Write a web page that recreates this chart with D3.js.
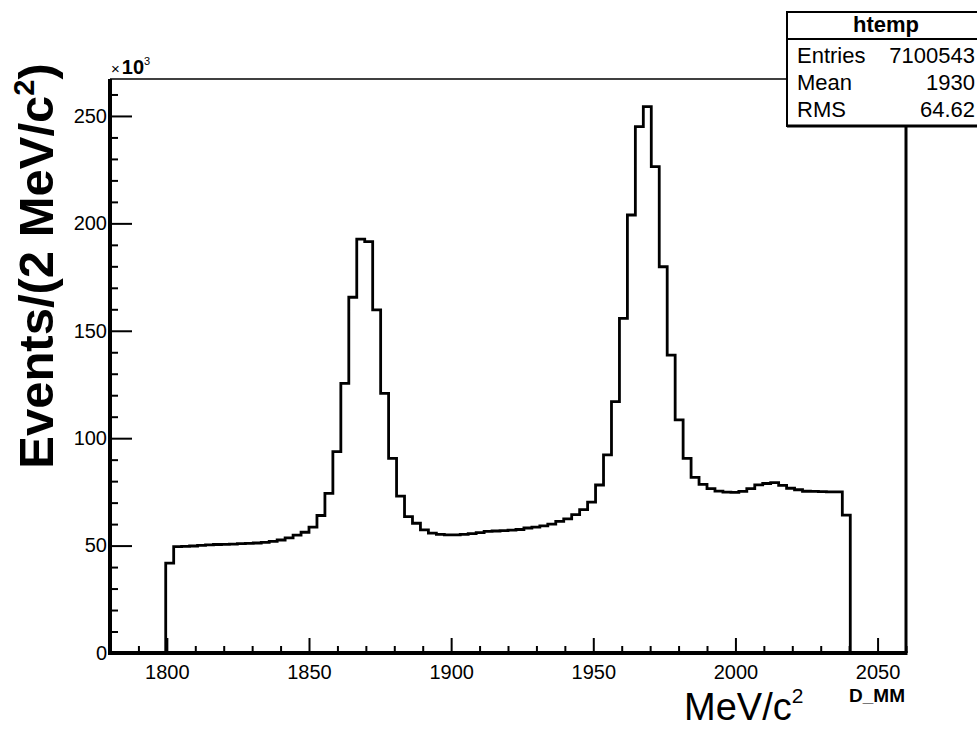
<!DOCTYPE html>
<html>
<head>
<meta charset="utf-8">
<script src="https://cdn.jsdelivr.net/npm/d3@7"></script>
<style>
  html, body { margin: 0; padding: 0; background: #fff; }
  svg { display: block; }
  text { font-family: "Liberation Sans", Arial, Helvetica, sans-serif; fill: #000; }
</style>
</head>
<body>
<svg id="chart" width="977" height="731"></svg>
<script>
// ---- Data ----
const histMin = 1780;
const histMax = 2060;
const nBins = 100;
// bin contents in units of 10^3 events, bins 0..99
const counts = [
  0, 0, 0, 0, 0, 0, 0,
  41.8, 49.5, 49.6, 49.8, 50.1, 50.3, 50.5, 50.6, 50.7, 50.9,
  51.0, 51.2, 51.5, 52.0, 52.6, 53.6, 54.9, 56.2, 58.6, 64.0,
  74.3, 93.7, 125.5, 165.6, 192.7, 191.5, 159.7, 120.9, 90.6, 73.0,
  63.5, 60.4, 57.3, 55.8, 55.2, 55.0, 55.0, 55.2, 55.6, 56.0,
  56.6, 56.8, 57.0, 57.2, 57.5, 58.2, 58.6, 59.2, 60.0, 61.3,
  62.4, 64.4, 66.7, 70.2, 78.2, 92.2, 117.0, 155.8, 203.9, 245.0,
  254.3, 226.4, 179.8, 138.7, 108.5, 90.6, 81.8, 78.5, 76.5, 75.4,
  74.9, 74.8, 75.2, 76.5, 78.3, 78.9, 79.3, 78.0, 76.7, 76.0,
  75.3, 75.2, 75.1, 75.0, 75.0, 64.2,
  0, 0, 0, 0, 0, 0, 0
];
const xMajorTicks = [1800, 1850, 1900, 1950, 2000, 2050];
const yMajorTicks = [0, 50, 100, 150, 200, 250];
const yMax = 267.2;
const statsTitle = "htemp";
const statsRows = [["Entries", "7100543"], ["Mean", "1930"], ["RMS", "64.62"]];

// ---- Layout ----
const svg = d3.select("#chart");
const L = 110, R = 906, T = 79, B = 653;
const x = d3.scaleLinear().domain([histMin, histMax]).range([L, R]);
const y = d3.scaleLinear().domain([0, yMax]).range([B, T]);
const binW = (histMax - histMin) / nBins;

// frame (top & right)
svg.append("line").attr("x1", L).attr("x2", R).attr("y1", T).attr("y2", T)
  .attr("stroke", "#000").attr("stroke-width", 1.6);
svg.append("line").attr("x1", R).attr("x2", R).attr("y1", T).attr("y2", B)
  .attr("stroke", "#000").attr("stroke-width", 3);

// histogram outline
const pts = counts.map((c, i) => [histMin + i * binW, c]);
pts.push([histMax, counts[counts.length - 1]]);
const line = d3.line().x(d => x(d[0])).y(d => y(d[1])).curve(d3.curveStepAfter);
svg.append("path").attr("d", line(pts)).attr("fill", "none")
  .attr("stroke", "#000").attr("stroke-width", 2.8).attr("stroke-linejoin", "miter");

// x axis
const xMinor = d3.range(1790, 2061, 10).filter(v => v % 50 !== 0);
const gxMinor = svg.append("g").attr("transform", `translate(0,${B})`)
  .call(d3.axisBottom(x).tickValues(xMinor).tickSize(-7).tickFormat(""));
const gx = svg.append("g").attr("transform", `translate(0,${B})`)
  .call(d3.axisBottom(x).tickValues(xMajorTicks).tickSize(-15).tickPadding(12).tickFormat(d3.format("d")));
[gxMinor, gx].forEach(g => {
  g.select(".domain").remove();
  g.selectAll(".tick line").attr("stroke", "#000").attr("stroke-width", 2);
});
gx.selectAll(".tick text").attr("font-size", 20).attr("fill", "#000")
  .attr("font-family", "'Liberation Sans', Arial, sans-serif");

// y axis
const yMinor = d3.range(0, 267, 10).filter(v => v % 50 !== 0);
const gyMinor = svg.append("g").attr("transform", `translate(${L},0)`)
  .call(d3.axisLeft(y).tickValues(yMinor).tickSize(-8).tickFormat(""));
const gy = svg.append("g").attr("transform", `translate(${L},0)`)
  .call(d3.axisLeft(y).tickValues(yMajorTicks).tickSize(-22).tickPadding(3).tickFormat(d3.format("d")));
[gyMinor, gy].forEach(g => {
  g.select(".domain").remove();
  g.selectAll(".tick line").attr("stroke", "#000").attr("stroke-width", 2);
});
gy.selectAll(".tick text").attr("font-size", 20).attr("fill", "#000")
  .attr("font-family", "'Liberation Sans', Arial, sans-serif");

// axis lines (thick)
svg.append("line").attr("x1", L).attr("x2", L).attr("y1", T).attr("y2", B + 2)
  .attr("stroke", "#000").attr("stroke-width", 4);
svg.append("line").attr("x1", L - 2).attr("x2", R + 1.5).attr("y1", B).attr("y2", B)
  .attr("stroke", "#000").attr("stroke-width", 4);

// x10^3
const e = svg.append("text").attr("x", 111).attr("y", 74).attr("font-size", 20);
e.append("tspan").attr("font-size", 15).text("×");
e.append("tspan").attr("font-weight", "bold").attr("dx", 2).text("10");
e.append("tspan").attr("font-size", 11).attr("dy", -9).text("3");

// y title
const yt = svg.append("text")
  .attr("transform", "translate(53,266) rotate(-90)")
  .attr("text-anchor", "middle").attr("font-weight", "bold").attr("font-size", 49);
yt.append("tspan").text("Events/(2 MeV/c");
yt.append("tspan").attr("font-size", 29).attr("dy", -19).text("2");
yt.append("tspan").attr("dy", 19).text(")");

// x title
const xt = svg.append("text").attr("x", 684).attr("y", 720).attr("font-size", 38);
xt.append("tspan").text("MeV/c");
xt.append("tspan").attr("font-size", 21).attr("dy", -17).text("2");
svg.append("text").attr("x", 905).attr("y", 702).attr("text-anchor", "end")
  .attr("font-weight", "bold").attr("font-size", 19).text("D_MM");

// stats box
const bx = 787, by = 12, bw = 200, bh = 114;
svg.append("rect").attr("x", bx).attr("y", by).attr("width", bw).attr("height", bh)
  .attr("fill", "#fff").attr("stroke", "#000").attr("stroke-width", 2);
svg.append("line").attr("x1", bx).attr("x2", bx + bw).attr("y1", by + bh).attr("y2", by + bh)
  .attr("stroke", "#000").attr("stroke-width", 3);
svg.append("line").attr("x1", bx).attr("x2", bx + bw).attr("y1", 39).attr("y2", 39)
  .attr("stroke", "#000").attr("stroke-width", 2);
svg.append("text").attr("x", 886).attr("y", 32).attr("text-anchor", "middle")
  .attr("font-weight", "bold").attr("font-size", 22).text(statsTitle);
const rowY = [63, 90, 117];
statsRows.forEach((r, i) => {
  svg.append("text").attr("x", 797).attr("y", rowY[i]).attr("font-size", 22).text(r[0]);
  svg.append("text").attr("x", 975).attr("y", rowY[i]).attr("text-anchor", "end")
    .attr("font-size", 22).text(r[1]);
});
</script>
</body>
</html>
